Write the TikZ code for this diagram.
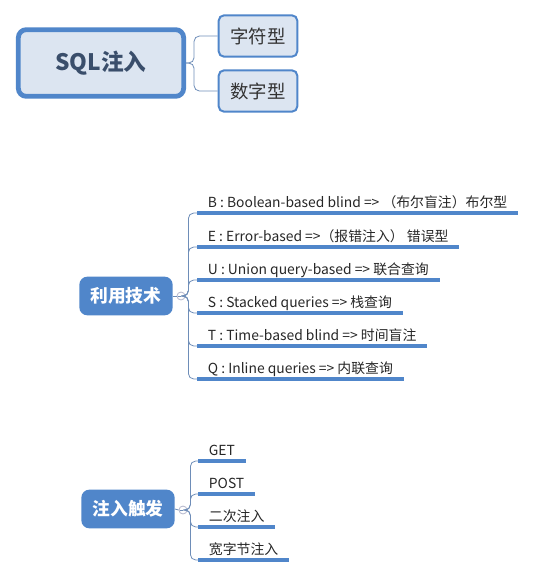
\documentclass[tikz,border=0pt]{standalone}
\usepackage{fontspec}
\setmainfont{Noto Sans CJK SC}
\usepackage{tikz}
\usetikzlibrary{positioning,calc}

\definecolor{mapblue}{HTML}{5086CA}
\definecolor{mapfill}{HTML}{DCE5F1}
\definecolor{maptext}{HTML}{3A4E6B}
\definecolor{linkgrey}{HTML}{6E8DB8}
\definecolor{markgrey}{HTML}{B4B6CC}

\begin{document}
\begin{tikzpicture}[
  x=0.75pt, y=-0.75pt,
  font=\fontsize{10.4}{12}\selectfont,
  rootbox/.style={draw=mapblue, line width=3.6pt, fill=mapfill, rounded corners=6pt,
                  minimum width=124pt, minimum height=50pt, text=maptext,
                  font=\fontsize{17}{19}\selectfont\bfseries},
  subbox/.style={draw=mapblue, line width=1.5pt, fill=mapfill, rounded corners=4pt,
                 minimum width=59pt, minimum height=31pt, text=black!80,
                 font=\fontsize{13.8}{15}\selectfont},
  topic/.style={fill=mapblue, rounded corners=6pt, text=white,
                minimum width=70pt, minimum height=29pt,
                font=\fontsize{13.3}{15}\selectfont\bfseries},
  foldmark/.style={circle, draw=markgrey, line width=0.6pt, fill=white,
               inner sep=0pt, minimum size=6pt},
  leaf/.style={anchor=south west, inner xsep=8pt, inner ysep=1.5pt,
               text height=8pt, text depth=2.2pt, text=black!85},
  uline/.style={draw=mapblue, line width=2.6pt},
  link/.style={draw=linkgrey, line width=0.6pt, rounded corners=4pt}
]
\useasboundingbox (0,0) rectangle (535,576);

% root
\node[rootbox] (sql) at (101,63) {SQL注入};
\node[subbox] (zifu) at (258,36) {字符型};
\node[subbox] (shuzi) at (258,91) {数字型};
\draw[link] (sql.east) -- ++(8,0) |- (zifu.west);
\draw[link] (sql.east) -- ++(8,0) |- (shuzi.west);

% techniques
\node[topic] (tech) at (126,296) {利用技术};
\node[foldmark] (techmark) at (181,296) {};
\draw[link] (tech.east) -- (techmark.west);
\draw[linkgrey, line width=0.5pt] (techmark.west) ++(1.6,0) -- ++(2.8,0);
\node[leaf] (tb) at (197,213) {B : Boolean-based blind => （布尔盲注）布尔型};
\node[leaf] (te) at (197,247) {E : Error-based =>（报错注入） 错误型};
\node[leaf] (tu) at (197,280) {U : Union query-based => 联合查询};
\node[leaf] (ts) at (197,313) {S : Stacked queries => 栈查询};
\node[leaf] (tt) at (197,346) {T : Time-based blind => 时间盲注};
\node[leaf] (tq) at (197,379) {Q : Inline queries => 内联查询};
\foreach \n in {tb,te,tu,ts,tt,tq}{
  \draw[uline] (\n.south west) -- (\n.south east);
  \draw[link] (techmark.east) -- ++(3,0) |- (\n.south west);
}

% triggers
\node[topic] (trig) at (128,509) {注入触发};
\node[foldmark] (trigmark) at (183,510) {};
\draw[link] (trig.east) -- (trigmark.west);
\draw[linkgrey, line width=0.5pt] (trigmark.west) ++(1.6,0) -- ++(2.8,0);
\node[leaf] (gget) at (198,461) {GET};
\node[leaf] (gpost) at (198,494) {POST};
\node[leaf] (gsec) at (198,527) {二次注入};
\node[leaf] (gwide) at (198,560) {宽字节注入};
\foreach \n in {gget,gpost,gsec,gwide}{
  \draw[uline] (\n.south west) -- (\n.south east);
  \draw[link] (trigmark.east) -- ++(3,0) |- (\n.south west);
}
\end{tikzpicture}
\end{document}
